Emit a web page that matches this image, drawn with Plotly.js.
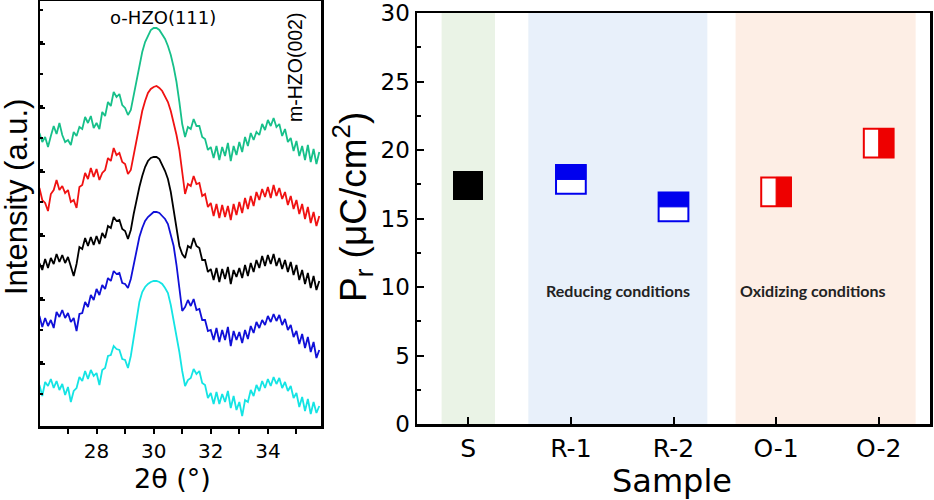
<!DOCTYPE html>
<html>
<head>
<meta charset="utf-8">
<script src="https://cdn.plot.ly/plotly-3.0.1.min.js"></script>
<style>
  html, body { margin: 0; padding: 0; background: #fff; }
  #chart { width: 934px; height: 500px; }
</style>
</head>
<body>
<div id="chart"></div>
<script>
// ---- XRD patterns (stacked, arbitrary units), sampled every 0.1 deg from 26.0 deg ----
const THETA_START = 26.0;
const THETA_STEP = 0.1;

const xrdGreen = [
  293, 284, 289, 279, 290, 300, 292, 303, 291, 284,
  286, 281, 294, 290, 299, 297, 309, 303, 310, 298,
  303, 297, 314, 310, 324, 320, 334, 329, 332, 321,
  318, 311, 316, 331, 348, 362, 374, 384, 391, 396,
  398, 398, 396, 392, 387, 380, 371, 359, 344, 324,
  302, 289, 299, 297, 307, 300, 300, 289, 287, 276,
  279, 268, 280, 266, 279, 270, 283, 265, 280, 271,
  284, 274, 289, 280, 293, 286, 294, 291, 302, 296,
  306, 300, 308, 299, 302, 290, 297, 284, 288, 275,
  285, 270, 280, 266, 281, 264, 277, 262, 274
];
const xrdRed = [
  238, 226, 223, 215, 232, 236, 246, 236, 240, 233,
  236, 224, 226, 218, 239, 241, 253, 247, 258, 249,
  257, 246, 253, 256, 268, 265, 278, 271, 273, 264,
  262, 252, 256, 271, 286, 302, 315, 325, 333, 337,
  339, 340, 338, 335, 330, 324, 315, 304, 291, 276,
  254, 232, 242, 240, 250, 242, 243, 230, 232, 219,
  223, 210, 222, 208, 221, 209, 220, 206, 222, 211,
  224, 213, 228, 217, 230, 220, 234, 226, 237, 229,
  239, 228, 241, 230, 238, 227, 234, 221, 230, 217,
  226, 212, 222, 207, 219, 203, 214, 200, 210
];
const xrdBlack = [
  163, 156, 167, 158, 168, 162, 172, 164, 171, 163,
  169, 160, 150, 162, 179, 177, 188, 180, 189, 181,
  190, 182, 193, 188, 200, 198, 209, 205, 206, 197,
  195, 187, 196, 212, 227, 239, 250, 259, 265, 268,
  269, 269, 267, 261, 255, 247, 234, 216, 198, 180,
  172, 168, 180, 178, 188, 180, 178, 166, 166, 154,
  157, 146, 158, 144, 157, 147, 159, 142, 156, 149,
  158, 148, 161, 150, 163, 154, 166, 158, 170, 160,
  171, 162, 172, 160, 168, 157, 166, 154, 164, 151,
  161, 146, 156, 142, 153, 138, 150, 136, 145
];
const xrdBlue = [
  110, 99, 108, 100, 106, 98, 114, 109, 116, 108,
  113, 104, 108, 95, 112, 113, 124, 119, 131, 126,
  137, 131, 141, 137, 148, 145, 155, 152, 153, 143,
  142, 138, 147, 160, 176, 189, 198, 205, 209, 212,
  214, 214, 213, 210, 207, 202, 192, 180, 161, 136,
  115, 119, 126, 120, 127, 116, 117, 106, 106, 95,
  96, 86, 98, 84, 96, 86, 99, 80, 95, 86,
  94, 83, 96, 87, 100, 93, 104, 98, 106, 101,
  110, 104, 112, 105, 111, 101, 107, 96, 101, 89,
  95, 82, 92, 78, 89, 74, 84, 68, 76
];
const xrdCyan = [
  41, 30, 44, 40, 47, 38, 45, 36, 42, 31,
  39, 24, 35, 38, 49, 45, 55, 47, 56, 50,
  53, 41, 56, 58, 70, 71, 80, 77, 76, 67,
  66, 58, 70, 88, 108, 124, 134, 139, 142, 144,
  145, 145, 144, 142, 138, 133, 121, 106, 90, 74,
  55, 40, 46, 48, 57, 52, 55, 43, 41, 28,
  33, 22, 34, 22, 32, 24, 35, 18, 30, 16,
  24, 10, 26, 24, 36, 30, 41, 35, 45, 38,
  47, 40, 49, 42, 48, 38, 44, 35, 40, 28,
  33, 19, 29, 15, 27, 12, 24, 13, 20
];

const twoTheta = xrdGreen.map((_, i) => +(THETA_START + i * THETA_STEP).toFixed(2));

// ---- Remanent polarization per sample ----
const samples = ['S', 'R-1', 'R-2', 'O-1', 'O-2'];
const prValues = [17.4, 17.85, 15.85, 16.95, 20.5];
const conditionLabels = ['Reducing conditions', 'Oxidizing conditions'];

// ---- styling ----
const SANS = 'DejaVu Sans, Liberation Sans, Arial, sans-serif';
const ARIAL = 'Liberation Sans, Arial, sans-serif';
const BOX_W = 0.29;   // square marker width (category units)
const BOX_H = 2.1;    // square marker height (uC/cm2)

const xrdSeries = [
  { y: xrdGreen, color: '#17c08a' },
  { y: xrdRed,   color: '#f01212' },
  { y: xrdBlack, color: '#000000' },
  { y: xrdBlue,  color: '#1010d8' },
  { y: xrdCyan,  color: '#14e4e4' }
];

const traces = xrdSeries.map(s => ({
  type: 'scatter', mode: 'lines', x: twoTheta, y: s.y,
  xaxis: 'x', yaxis: 'y',
  line: { color: s.color, width: 1.8 },
  hoverinfo: 'skip', showlegend: false
}));

const base = prValues.map(v => v - BOX_H / 2);
const pick = idx => idx.map(i => samples[i]);
const pickV = (arr, idx) => idx.map(i => arr[i]);

// S: solid black square
traces.push({
  type: 'bar', x: pick([0]), base: pickV(base, [0]), y: [BOX_H], width: [BOX_W],
  xaxis: 'x2', yaxis: 'y2', marker: { color: '#000', line: { width: 0 } },
  hoverinfo: 'skip', showlegend: false
});
// R: blue outlined square, top half filled
traces.push({
  type: 'bar', x: pick([1, 2]), base: pickV(base, [1, 2]), y: [BOX_H, BOX_H], width: [BOX_W, BOX_W],
  xaxis: 'x2', yaxis: 'y2', marker: { color: '#fff', line: { color: '#0000ee', width: 2 } },
  hoverinfo: 'skip', showlegend: false
});
traces.push({
  type: 'bar', x: pick([1, 2]), base: pickV(prValues, [1, 2]), y: [BOX_H / 2, BOX_H / 2], width: [BOX_W, BOX_W],
  xaxis: 'x2', yaxis: 'y2', marker: { color: '#0000ee', line: { color: '#0000ee', width: 1 } },
  hoverinfo: 'skip', showlegend: false
});
// O: red outlined square, right half filled
traces.push({
  type: 'bar', x: pick([3, 4]), base: pickV(base, [3, 4]), y: [BOX_H, BOX_H], width: [BOX_W, BOX_W],
  xaxis: 'x2', yaxis: 'y2', marker: { color: '#fff', line: { color: '#ee0000', width: 2 } },
  hoverinfo: 'skip', showlegend: false
});
traces.push({
  type: 'bar', x: pick([3, 4]), base: pickV(base, [3, 4]), y: [BOX_H, BOX_H],
  width: [BOX_W / 2, BOX_W / 2], offset: [0, 0],
  xaxis: 'x2', yaxis: 'y2', marker: { color: '#ee0000', line: { color: '#ee0000', width: 1 } },
  hoverinfo: 'skip', showlegend: false
});

// shaded groups behind the Pr markers
const bands = [
  { x0: -0.26, x1: 0.26, color: '#eaf3e6' },
  { x0: 0.585, x1: 2.33, color: '#e8f0fa' },
  { x0: 2.605, x1: 4.36, color: '#fdeee5' }
];
const shapes = bands.map(b => ({
  type: 'rect', xref: 'x2', yref: 'y2 domain', x0: b.x0, x1: b.x1, y0: 0, y1: 1,
  fillcolor: b.color, line: { width: 0 }, layer: 'below'
}));

const W = 934, H = 500, MB = 74, PH = H - MB;
const px = v => v / W;
const py = v => (PH - v) / PH;

function label(text, x, y, font, extra) {
  return Object.assign({
    text: text, xref: 'paper', yref: 'paper', x: px(x), y: py(y),
    xanchor: 'center', yanchor: 'middle', showarrow: false, font: font
  }, extra || {});
}

const annotations = [
  label('o-HZO(111)', 163, 17, { family: SANS, size: 18, color: '#000' }),
  label('m-HZO(002)', 295, 68, { family: ARIAL, size: 19.5, color: '#000' }, { textangle: -90 }),
  label('2θ (°)', 172, 479, { family: SANS, size: 27, color: '#000' }),
  label('Intensity (a.u.)', 16, 197, { family: ARIAL, size: 31, color: '#000' }, { textangle: -90 }),
  label('Sample', 672, 481, { family: SANS, size: 32, color: '#000' }),
  label('P<sub>r</sub> (μC/cm<sup>2</sup>)', 352, 207, { family: ARIAL, size: 37, color: '#000' }, { textangle: -90 }),
  { text: conditionLabels[0], xref: 'x2', yref: 'y2', x: 1.46, y: 9.78, showarrow: false,
    xanchor: 'center', yanchor: 'middle',
    font: { family: 'Lato, Open Sans, sans-serif', size: 16, weight: 'bold', color: '#222' } },
  { text: conditionLabels[1], xref: 'x2', yref: 'y2', x: 3.36, y: 9.78, showarrow: false,
    xanchor: 'center', yanchor: 'middle',
    font: { family: 'Lato, Open Sans, sans-serif', size: 16, weight: 'bold', color: '#222' } }
];

const frame = { showline: true, linecolor: '#000', linewidth: 2.5, mirror: true, zeroline: false, showgrid: false };

const layout = {
  width: W, height: H,
  margin: { l: 0, r: 0, t: 0, b: MB, pad: 0 },
  paper_bgcolor: '#fff', plot_bgcolor: 'rgba(0,0,0,0)',
  barmode: 'overlay', bargap: 0,
  showlegend: false, hovermode: false,
  xaxis: Object.assign({}, frame, {
    domain: [px(40), px(321)], range: [26.02, 35.86], anchor: 'y',
    tick0: 0, dtick: 2, ticks: 'outside', ticklen: 5, tickwidth: 2, tickcolor: '#000',
    minor: { dtick: 1, ticks: 'outside', ticklen: 5, tickwidth: 2, tickcolor: '#000' },
    tickfont: { family: SANS, size: 20, color: '#000' }
  }),
  yaxis: Object.assign({}, frame, {
    domain: [0, 425 / 426], range: [0, 425], anchor: 'x',
    tick0: -2, dtick: 64, ticks: 'inside', ticklen: 5, tickwidth: 2, tickcolor: '#000',
    minor: { dtick: 32, ticks: 'inside', ticklen: 3, tickwidth: 1.5, tickcolor: '#000' },
    showticklabels: false
  }),
  xaxis2: Object.assign({}, frame, {
    domain: [px(417), px(930)], anchor: 'y2',
    type: 'category', categoryorder: 'array', categoryarray: samples, range: [-0.5, 4.5],
    ticks: 'inside', ticklen: 7, tickwidth: 2, tickcolor: '#000',
    tickfont: { family: SANS, size: 25, color: '#000' }
  }),
  yaxis2: Object.assign({}, frame, {
    domain: [2 / 426, 413 / 426], range: [0, 30], anchor: 'x2',
    tick0: 0, dtick: 5, ticks: 'inside', ticklen: 7, tickwidth: 2, tickcolor: '#000',
    minor: { dtick: 2.5, ticks: 'inside', ticklen: 4, tickwidth: 2, tickcolor: '#000' },
    tickfont: { family: SANS, size: 23, color: '#000' }
  }),
  shapes: shapes,
  annotations: annotations
};

Plotly.newPlot('chart', traces, layout, { displayModeBar: false, staticPlot: true });
</script>
</body>
</html>
